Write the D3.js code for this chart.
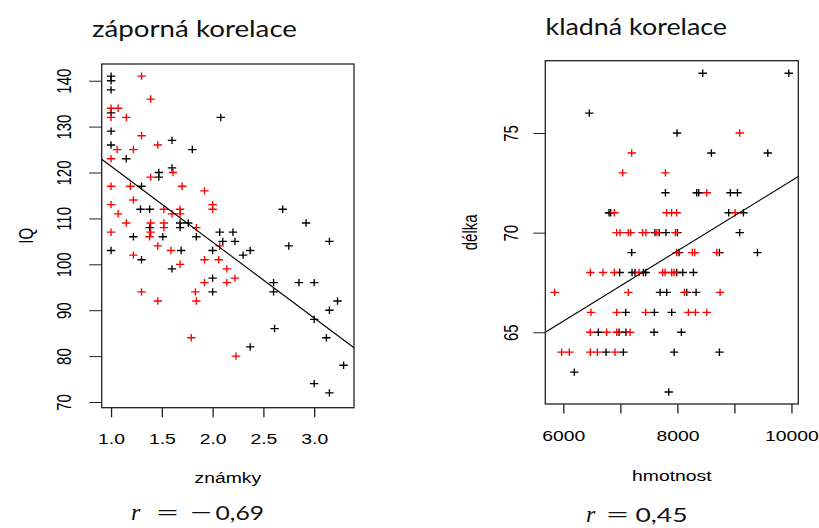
<!DOCTYPE html>
<html>
<head>
<meta charset="utf-8">
<script src="https://cdn.jsdelivr.net/npm/d3@7"></script>
<style>
  body { margin: 0; background: #fff; }
  svg { display: block; }
</style>
</head>
<body>
<svg id="chart" width="819" height="528"></svg>
<script>
// ---- Left panel: grades (známky) vs IQ, two groups ----
const gradeIqBlack = [
  [1.00,141],[1.00,140],[1.00,138],[1.00,133],[2.08,132],[1.00,129],[1.60,127],[1.00,126],
  [1.80,125],[1.15,123],[1.60,121],[1.47,120],[1.47,119],[1.30,117],[1.29,112],[1.38,112],
  [1.76,109],[1.68,109],[1.68,108],[1.38,108],[2.92,109],[2.69,112],[1.22,106],[1.51,106],
  [1.84,106],[2.07,107],[2.20,107],[2.10,105],[2.22,105],[3.15,105],[1.00,103],[1.69,103],
  [2.00,103],[2.37,103],[2.30,102],[2.75,104],[1.30,101],[1.60,99],[2.00,97],[2.00,94],
  [2.60,96],[2.60,94],[2.85,96],[3.00,96],[3.23,92],[3.15,90],[3.00,88],[2.61,86],
  [3.12,84],[2.37,82],[3.29,78],[3.00,74],[3.15,72]
];
const gradeIqRed = [
  [1.30,141],[1.39,136],[1.00,134],[1.07,134],[1.00,132],[1.15,132],[1.30,128],[1.46,126],
  [1.06,125],[1.22,125],[1.00,123],[1.61,120],[1.39,119],[1.00,117],[1.19,117],[1.70,117],
  [1.92,116],[1.22,114],[1.00,113],[2.00,113],[2.00,112],[1.07,111],[1.52,112],[1.60,111],
  [1.68,112],[1.68,111],[1.15,109],[1.39,109],[1.52,109],[1.84,108],[1.52,108],[1.00,107],
  [1.39,107],[1.38,106],[1.46,104],[2.07,104],[1.59,103],[1.22,102],[1.92,101],[2.06,101],
  [1.68,100],[2.14,99],[1.92,96],[2.14,96],[2.22,97],[1.30,94],[1.83,94],[1.46,92],
  [1.84,92],[1.79,84],[2.23,80]
];
const gradeTicks = [1.0, 1.5, 2.0, 2.5, 3.0];
const gradeTickLabels = ["1.0", "1.5", "2.0", "2.5", "3.0"];
const iqTicks = [70, 80, 90, 100, 110, 120, 130, 140];
const iqTickLabels = ["70", "80", "90", "100", "110", "120", "130", "140"];
const iqFit = [137.9, -16.53];          // intercept, slope
const iqR = "\u22120,69";
const iqDomainX = [0.908, 3.392];
const iqDomainY = [68.76, 143.64];

// ---- Right panel: weight (hmotnost) vs height (délka) ----
const weightHeightBlack = [
  [8444,78],[9953,78],[6456,76],[7994,75],[8596,74],[9585,74],[7790,72],[8339,72],
  [8374,72],[8930,72],[9053,72],[6801,71],[6830,71],[8900,71],[9158,71],[7606,70],
  [7681,70],[7799,70],[8000,70],[9093,70],[7199,69],[8029,69],[8737,69],[9404,69],
  [6988,68],[7205,68],[7257,68],[7404,68],[7444,68],[7988,68],[8094,68],[8281,68],
  [7696,67],[7813,67],[8164,67],[8328,67],[7094,66],[7597,66],[7900,66],[6614,65],
  [6977,65],[7099,65],[7591,65],[8070,65],[6749,64],[7053,64],[7942,64],[8737,64],
  [6193,63],[7848,62]
];
const weightHeightRed = [
  [9093,75],[7199,74],[7041,73],[7790,73],[8515,72],[6895,71],[7811,71],[7898,71],
  [7986,71],[9012,71],[6935,70],[6993,70],[7138,70],[7180,70],[7390,70],[7448,70],
  [7640,70],[7965,70],[7988,69],[8263,69],[8304,69],[8690,69],[6474,68],[6696,68],
  [6895,68],[7327,68],[7743,68],[7784,68],[7900,68],[7942,68],[5848,67],[7140,67],
  [8123,67],[8749,67],[6485,66],[6936,66],[7444,66],[8193,66],[8316,66],[8515,66],
  [6474,65],[6760,65],[6936,65],[7170,65],[5971,64],[6105,64],[6474,64],[6597,64],
  [6906,64]
];
const weightTicks = [6000, 7000, 8000, 9000, 10000];
const weightTickLabels = ["6000", "", "8000", "", "10000"];
const heightTicks = [65, 70, 75];
const heightTickLabels = ["65", "70", "75"];
const heightFit = [54.99, 0.001762];    // intercept, slope
const heightR = "0,45";
const heightDomainX = [5684, 10120];
const heightDomainY = [61.40, 78.63];

// ---- drawing ----
const SX = 1.29;                 // horizontal stretch of all axis text
const AXIS_FONT = "'Liberation Sans', Arial, sans-serif";
const TITLE_FONT = "Lato, 'Noto Sans', sans-serif";
const svg = d3.select("#chart");

function drawPanel(p) {
  const x = d3.scaleLinear().domain(p.xDomain).range([p.left, p.right]);
  const y = d3.scaleLinear().domain(p.yDomain).range([p.bottom, p.top]);
  const g = svg.append("g");

  const clipId = "clip-" + p.id;
  svg.append("clipPath").attr("id", clipId)
    .append("rect")
    .attr("x", p.left).attr("y", p.top)
    .attr("width", p.right - p.left).attr("height", p.bottom - p.top);

  // points: plus signs
  const plus = "M-4.2,0H4.2M0,-3.7V3.7";
  [[p.black, "#000000"], [p.red, "#ff0000"]].forEach(([pts, col]) => {
    g.append("g").selectAll("path").data(pts).enter().append("path")
      .attr("d", plus)
      .attr("transform", d => `translate(${x(d[0])},${y(d[1])})`)
      .attr("fill", "none").attr("stroke", col).attr("stroke-width", 1.35);
  });

  // least squares line
  g.append("path")
    .attr("clip-path", `url(#${clipId})`)
    .datum(p.xDomain.map(v => [v, p.fit[0] + p.fit[1] * v]))
    .attr("d", d3.line().x(d => x(d[0])).y(d => y(d[1])))
    .attr("fill", "none").attr("stroke", "#000").attr("stroke-width", 1.1);

  // box
  g.append("rect")
    .attr("x", p.left).attr("y", p.top)
    .attr("width", p.right - p.left).attr("height", p.bottom - p.top)
    .attr("fill", "none").attr("stroke", "#222").attr("stroke-width", 1.3);

  // bottom axis
  const xa = g.append("g").attr("transform", `translate(0,${p.bottom})`)
    .call(d3.axisBottom(x).tickValues(p.xTicks)
      .tickFormat((d, i) => p.xLabels[i]).tickSize(9.6).tickSizeOuter(0));
  xa.select(".domain").remove();
  xa.selectAll(".tick line").attr("stroke", "#222").attr("stroke-width", 1.3);
  xa.selectAll(".tick text")
    .attr("y", null).attr("dy", null)
    .attr("transform", `translate(0,${p.xLabelBase}) scale(${SX},1)`)
    .attr("text-anchor", "middle")
    .attr("font-family", AXIS_FONT).attr("font-size", 15).attr("fill", "#000");

  // left axis
  const ya = g.append("g").attr("transform", `translate(${p.left},0)`)
    .call(d3.axisLeft(y).tickValues(p.yTicks)
      .tickFormat((d, i) => p.yLabels[i]).tickSize(p.yTickLen).tickSizeOuter(0));
  ya.select(".domain").remove();
  ya.selectAll(".tick line").attr("stroke", "#222").attr("stroke-width", 1.0);
  ya.selectAll(".tick text")
    .attr("x", null).attr("dy", null)
    .attr("transform", `translate(${-p.yLabelGap},0) scale(${SX},1) rotate(-90)`)
    .attr("text-anchor", "middle")
    .attr("font-family", AXIS_FONT).attr("font-size", 15).attr("fill", "#000");

  // axis titles
  g.append("text")
    .attr("transform", `translate(${(p.left + p.right) / 2},${p.bottom + p.xTitleGap}) scale(${SX},1)`)
    .attr("text-anchor", "middle")
    .attr("font-family", AXIS_FONT).attr("font-size", 15)
    .text(p.xTitle);
  g.append("text")
    .attr("transform", `translate(${p.left - p.yTitleGap},${(p.top + p.bottom) / 2}) scale(${SX},1) rotate(-90)`)
    .attr("text-anchor", "middle")
    .attr("font-family", AXIS_FONT).attr("font-size", 15)
    .text(p.yTitle);

  // panel title
  g.append("text")
    .attr("x", p.titleX).attr("y", p.titleY)
    .attr("textLength", p.titleLen).attr("lengthAdjust", "spacingAndGlyphs")
    .attr("font-family", TITLE_FONT).attr("font-size", 24).attr("fill", "#111")
    .text(p.title);

  // correlation coefficient, typeset piece by piece: r = [−]d,dd
  const rg = g.append("g").attr("fill", "#111");
  rg.append("text").attr("x", p.rX).attr("y", p.rY)
    .attr("font-family", "'Liberation Serif', 'DejaVu Serif', serif")
    .attr("font-style", "italic").attr("font-size", 24).text("r");
  rg.append("text").attr("x", p.eqX).attr("y", p.rY)
    .attr("textLength", 24).attr("lengthAdjust", "spacingAndGlyphs")
    .attr("font-family", TITLE_FONT).attr("font-size", 21).text("=");
  let num = p.rText;
  if (num.startsWith("\u2212")) {
    rg.append("text").attr("x", p.minusX).attr("y", p.rY)
      .attr("textLength", 24).attr("lengthAdjust", "spacingAndGlyphs")
      .attr("font-family", TITLE_FONT).attr("font-size", 21).text("\u2212");
    num = num.slice(1);
  }
  rg.append("text").attr("x", p.numX).attr("y", p.rY)
    .attr("textLength", p.numLen).attr("lengthAdjust", "spacingAndGlyphs")
    .attr("font-family", TITLE_FONT).attr("font-size", 20).text(num);
}

drawPanel({
  id: "iq", black: gradeIqBlack, red: gradeIqRed, fit: iqFit,
  xDomain: iqDomainX, yDomain: iqDomainY,
  left: 101.7, right: 354, top: 64, bottom: 407.7,
  xTicks: gradeTicks, xLabels: gradeTickLabels, yTicks: iqTicks, yLabels: iqTickLabels,
  yTickLen: 12.5, xLabelBase: 36.6, yLabelGap: 31,
  xTitle: "známky", yTitle: "IQ", xTitleGap: 75.6, yTitleGap: 68.5,
  title: "záporná korelace", titleX: 92, titleY: 37, titleLen: 205,
  rText: iqR, rX: 131, rY: 520, eqX: 155.5, minusX: 189, numX: 215.5, numLen: 48.5
});

drawPanel({
  id: "height", black: weightHeightBlack, red: weightHeightRed, fit: heightFit,
  xDomain: heightDomainX, yDomain: heightDomainY,
  left: 545.3, right: 798.3, top: 60.7, bottom: 404,
  xTicks: weightTicks, xLabels: weightTickLabels, yTicks: heightTicks, yLabels: heightTickLabels,
  yTickLen: 12, xLabelBase: 37, yLabelGap: 27,
  xTitle: "hmotnost", yTitle: "délka", xTitleGap: 76.7, yTitleGap: 68.7,
  title: "kladná korelace", titleX: 545.5, titleY: 35, titleLen: 181.5,
  rText: heightR, rX: 586, rY: 521.5, eqX: 605.5, minusX: 0, numX: 635.5, numLen: 52
});
</script>
</body>
</html>
